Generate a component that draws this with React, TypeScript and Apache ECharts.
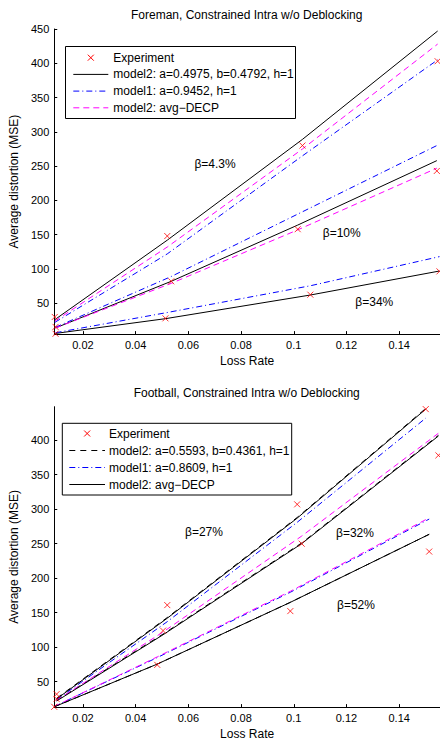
import React, { useEffect, useRef } from "react";
import * as echarts from "echarts";

const FONT = '"Liberation Sans", Arial, Helvetica, sans-serif';

// ---------- shared axis ticks ----------
const xTicks = [0.02, 0.04, 0.06, 0.08, 0.1, 0.12, 0.14];
const foremanYTicks = [50, 100, 150, 200, 250, 300, 350, 400, 450];
const footballYTicks = [50, 100, 150, 200, 250, 300, 350, 400];

// ---------- Foreman (top) ----------
const foremanTitle = "Foreman, Constrained Intra w/o Deblocking";
const foremanNames = ["Experiment", "model2: a=0.4975, b=0.4792, h=1", "model1: a=0.9452, h=1", "model2: avg\u2212DECP"];

const foremanX43 = [0.0093, 0.052, 0.1033, 0.1546];
const foremanExp43 = [30, 148, 280, 403];
const foremanM2_43 = [26, 142, 289, 447];
const foremanM1_43 = [22, 122, 265, 405];
const foremanAvg43 = [24, 132, 275, 428];

const foremanX10 = [0.0096, 0.0535, 0.1015, 0.1543];
const foremanExp10 = [15.5, 82, 158, 243];
const foremanM2_10 = [14, 82, 164, 258];
const foremanM1_10 = [15, 89, 180, 280];
const foremanAvg10 = [14, 79, 157, 247];

const foremanX34 = [0.0096, 0.0513, 0.1063, 0.1553];
const foremanExp34 = [5.5, 28, 62.5, 96.5];
const foremanM2_34 = [6, 27.5, 62, 97];
const foremanM1_34 = [7, 36, 75.5, 118];

const foremanBetas = ["\u03b2=4.3%", "\u03b2=10%", "\u03b2=34%"];

// ---------- Football (bottom) ----------
const footballTitle = "Football, Constrained Intra w/o Deblocking";
const footballNames = ["Experiment", "model2: a=0.5593, b=0.4361, h=1", "model1: a=0.8609, h=1", "model2: avg\u2212DECP"];

const footballX27 = [0.01, 0.052, 0.1013, 0.1501];
const footballExp27 = [32, 161, 307, 445];
const footballM2_27 = [26, 143, 288, 446];
const footballAvg27 = [25, 142, 287, 445];
const footballM1_27 = [24, 137, 281, 432];

const footballX32 = [0.01, 0.0504, 0.103, 0.1549];
const footballExp32 = [25, 124, 250, 378];
const footballM2_32 = [23, 119, 251, 407];
const footballAvg32 = [22, 118, 250, 406];
const footballDecp32 = [23, 122, 261, 410];

const footballX52 = [0.0091, 0.0482, 0.0987, 0.1514];
const footballExp52 = [13.6, 74.4, 152.3, 238.6];
const footballM2_52 = [13.6, 75.5, 165, 263.6];
const footballAvg52 = [13.6, 75.5, 165, 263.6];
const footballM1_52 = [14, 85, 179.6, 285.7];
const footballDecp52 = [14, 86, 181, 287.5];

const footballBetas = ["\u03b2=27%", "\u03b2=32%", "\u03b2=52%"];

// ---------- styles ----------
const STYLES: Record<string, any> = {
  black: { color: "#000000", width: 1, type: "solid" },
  blackDash: { color: "#000000", width: 1, type: [6, 5] },
  blue: { color: "#0000ff", width: 1, type: [6, 3, 1, 3] },
  magenta: { color: "#ff00ff", width: 1, type: [6, 4] },
};

const pairs = (xs: number[], ys: number[]) => xs.map((x, i) => [x, ys[i]]);

function lineSeries(name: string, xs: number[], ys: number[], style: string) {
  return {
    type: "line",
    name,
    data: pairs(xs, ys),
    symbol: "none",
    silent: true,
    lineStyle: { ...STYLES[style] },
    z: 3,
  };
}

function expSeries(name: string, groups: [number[], number[]][]) {
  const data: number[][] = [];
  groups.forEach(([xs, ys]) => pairs(xs, ys).forEach((p) => data.push(p)));
  return {
    type: "scatter",
    name,
    data,
    symbol: "path://M0,0L10,10M10,0L0,10",
    symbolSize: 6,
    itemStyle: { color: "rgba(0,0,0,0)", borderColor: "#ff0000", borderWidth: 1 },
    silent: true,
    z: 4,
  };
}

function legendGraphic(
  box: { x: number; y: number; w: number; h: number },
  rowY0: number,
  rowGap: number,
  sampleX0: number,
  sampleX1: number,
  textX: number,
  names: string[],
  styles: string[]
) {
  const els: any[] = [
    {
      type: "rect",
      z: 100,
      shape: { x: box.x, y: box.y, width: box.w, height: box.h },
      style: { fill: "#ffffff", stroke: "#000000", lineWidth: 1 },
    },
  ];
  names.forEach((n, i) => {
    const y = rowY0 + rowGap * i;
    if (i === 0) {
      const cx = (sampleX0 + sampleX1) / 2;
      els.push({ type: "line", z: 101, shape: { x1: cx - 3, y1: y - 3, x2: cx + 3, y2: y + 3 }, style: { stroke: "#ff0000", lineWidth: 1 } });
      els.push({ type: "line", z: 101, shape: { x1: cx + 3, y1: y - 3, x2: cx - 3, y2: y + 3 }, style: { stroke: "#ff0000", lineWidth: 1 } });
    } else {
      const st = STYLES[styles[i]];
      els.push({
        type: "line",
        z: 101,
        shape: { x1: sampleX0, y1: y, x2: sampleX1, y2: y },
        style: { stroke: st.color, lineWidth: 1, lineDash: Array.isArray(st.type) ? st.type : null },
      });
    }
    els.push({
      type: "text",
      z: 101,
      x: textX,
      y,
      style: { text: n, fill: "#000000", fontSize: 12, fontFamily: FONT, align: "left", verticalAlign: "middle" },
    });
  });
  return els;
}

function textEl(text: string, x: number, y: number, size = 12) {
  return {
    type: "text",
    z: 101,
    x,
    y,
    style: { text, fill: "#000000", fontSize: size, fontFamily: FONT, align: "center", verticalAlign: "middle" },
  };
}

const X_MIN = 0.00911;
const X_MAX = 0.1555;

function axes(yMin: number, yMax: number, yTicks: number[]) {
  const common = {
    type: "value",
    axisLine: { show: true, lineStyle: { color: "#000000", width: 1 } },
    splitLine: { show: false },
    nameLocation: "middle",
    nameTextStyle: { fontSize: 12, color: "#000000", fontFamily: FONT },
  };
  return {
    xAxis: {
      ...common,
      min: X_MIN,
      max: X_MAX,
      name: "Loss Rate",
      nameGap: 18,
      axisTick: { show: true, inside: true, length: 3, customValues: xTicks, lineStyle: { color: "#000000" } },
      axisLabel: { customValues: xTicks, color: "#000000", fontSize: 11, fontFamily: FONT, margin: 5, formatter: (v: number) => String(v) },
    },
    yAxis: {
      ...common,
      min: yMin,
      max: yMax,
      name: "Average distortion (MSE)",
      nameGap: 28,
      axisTick: { show: true, inside: true, length: 3, customValues: yTicks, lineStyle: { color: "#000000" } },
      axisLabel: { customValues: yTicks, color: "#000000", fontSize: 11, fontFamily: FONT, margin: 5, formatter: (v: number) => String(v) },
    },
  };
}

const foremanOption = {
  animation: false,
  backgroundColor: "#ffffff",
  grid: { left: 50, top: 29, height: 307.7, right: 0 },
  ...axes(5, 450, foremanYTicks),
  series: [
    lineSeries(foremanNames[1], foremanX43, foremanM2_43, "black"),
    lineSeries(foremanNames[2], foremanX43, foremanM1_43, "blue"),
    lineSeries(foremanNames[3], foremanX43, foremanAvg43, "magenta"),
    lineSeries(foremanNames[1], foremanX10, foremanM2_10, "black"),
    lineSeries(foremanNames[2], foremanX10, foremanM1_10, "blue"),
    lineSeries(foremanNames[3], foremanX10, foremanAvg10, "magenta"),
    lineSeries(foremanNames[1], foremanX34, foremanM2_34, "black"),
    lineSeries(foremanNames[2], foremanX34, foremanM1_34, "blue"),
    expSeries(foremanNames[0], [
      [foremanX43, foremanExp43],
      [foremanX10, foremanExp10],
      [foremanX34, foremanExp34],
    ]),
  ],
  graphic: [
    textEl(foremanTitle, 246.7, 15),
    textEl(foremanBetas[0], 215, 164.3),
    textEl(foremanBetas[1], 341.7, 232.7),
    textEl(foremanBetas[2], 374.3, 302.3),
    ...legendGraphic({ x: 65.5, y: 46.5, w: 230, h: 72 }, 57.7, 16.7, 73.3, 108.3, 113.3, foremanNames, ["", "black", "blue", "magenta"]),
  ],
};

const OFF = 372;
const footballOption = {
  animation: false,
  backgroundColor: "#ffffff",
  grid: { left: 50, top: 34.7, height: 307.6, right: 0 },
  ...axes(13.2, 448.5, footballYTicks),
  series: [
    lineSeries(footballNames[1], footballX27, footballM2_27, "blackDash"),
    lineSeries(footballNames[2], footballX27, footballM1_27, "blue"),
    lineSeries(footballNames[3], footballX27, footballAvg27, "black"),
    lineSeries(footballNames[1], footballX32, footballM2_32, "blackDash"),
    lineSeries("avg-DECP (32%)", footballX32, footballDecp32, "magenta"),
    lineSeries(footballNames[3], footballX32, footballAvg32, "black"),
    lineSeries(footballNames[1], footballX52, footballM2_52, "blackDash"),
    lineSeries(footballNames[2], footballX52, footballM1_52, "blue"),
    lineSeries("avg-DECP (52%)", footballX52, footballDecp52, "magenta"),
    lineSeries(footballNames[3], footballX52, footballAvg52, "black"),
    expSeries(footballNames[0], [
      [footballX27, footballExp27],
      [footballX32, footballExp32],
      [footballX52, footballExp52],
    ]),
  ],
  graphic: [
    textEl(footballTitle, 246.7, 393.3 - OFF),
    textEl(footballBetas[0], 204, 532.3 - OFF),
    textEl(footballBetas[1], 355, 533.3 - OFF),
    textEl(footballBetas[2], 356, 605.3 - OFF),
    ...legendGraphic({ x: 62.3, y: 423.3 - OFF, w: 229.4, h: 71.7 }, 433.5 - OFF, 17, 69.3, 105, 109, footballNames, ["", "blackDash", "blue", "black"]),
  ],
};

function ChartBox({ option, top, height }: { option: any; top: number; height: number }) {
  const ref = useRef<HTMLDivElement>(null);
  useEffect(() => {
    if (!ref.current) return;
    const chart = echarts.init(ref.current, null, { renderer: "svg" });
    chart.setOption(option);
    return () => chart.dispose();
  }, [option]);
  return <div ref={ref} style={{ position: "absolute", left: 0, top, width: 440, height }} />;
}

export default function App() {
  return (
    <div>
      <ChartBox option={foremanOption} top={0} height={OFF} />
      <ChartBox option={footballOption} top={OFF} height={745 - OFF} />
    </div>
  );
}
